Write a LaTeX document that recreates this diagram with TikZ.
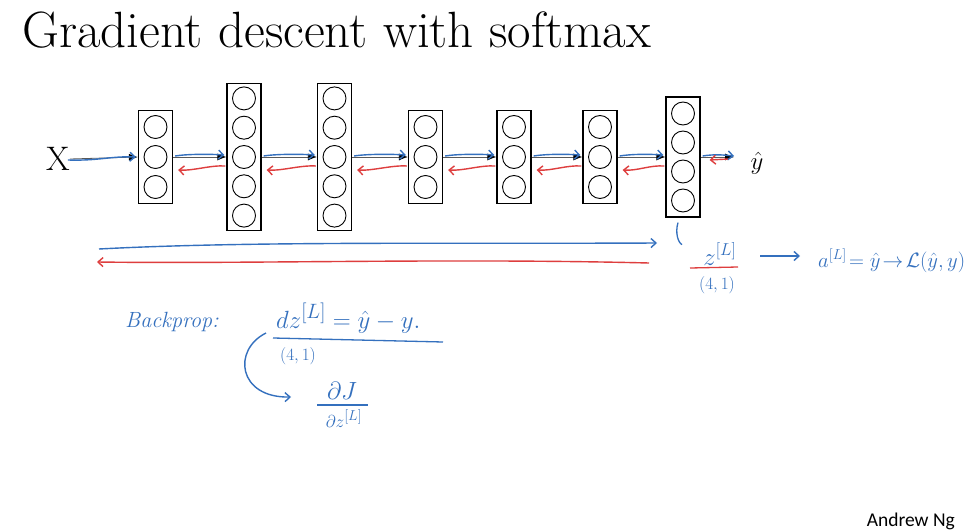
\documentclass[tikz,border=0pt]{standalone}
\usepackage{fontspec}
\usepackage{amsmath}
\usetikzlibrary{arrows.meta}
\newfontfamily\andrewfont{Carlito}
\definecolor{pen}{RGB}{52,112,190}
\definecolor{redpen}{RGB}{222,62,62}
\begin{document}
\begin{tikzpicture}[x=1pt,y=-1pt,
  layerbox/.style={draw,line width=1.2pt,minimum width=34pt,inner sep=0pt},
  unit/.style={circle,draw,line width=0.9pt,minimum size=23pt,inner sep=0pt},
  fwd/.style={draw=black!65,line width=0.8pt,-{Latex[length=9pt,width=7pt,black]}},
  bluearrow/.style={pen,line width=1.4pt,-{Straight Barb[length=5pt,width=9pt]}},
  redarrow/.style={redpen,line width=1.4pt,-{Straight Barb[length=5pt,width=9pt]}},
  hand/.style={pen,inner sep=0pt},
]
\useasboundingbox (0,0) rectangle (969,532);
\fill[white] (0,0) rectangle (969,532);

\node[anchor=base west,inner sep=0pt] (title) at (22,48) {\fontsize{51}{55}\selectfont Gradient descent with softmax};

% layers
\node[layerbox,minimum height=93pt] (b1) at (155.5,157) {};
\node[layerbox,minimum height=147pt] (b2) at (244,157) {};
\node[layerbox,minimum height=147pt] (b3) at (334.5,157) {};
\node[layerbox,minimum height=93pt] (b4) at (425.5,157) {};
\node[layerbox,minimum height=93pt] (b5) at (514,157) {};
\node[layerbox,minimum height=93pt] (b6) at (600,157) {};
\node[layerbox,minimum height=120pt] (b7) at (683,157) {};

\foreach \b in {b1,b4,b5,b6}{
  \foreach \k in {-1,0,1}{
    \node[unit] (\b u\k) at ([yshift=\k*30pt]\b.center) {};
  }
}
\foreach \b in {b2,b3}{
  \foreach \k in {-2,-1,0,1,2}{
    \node[unit] (\b u\k) at ([yshift=\k*29.3pt]\b.center) {};
  }
}
\foreach \k/\n in {-1.5/a,-0.5/b,0.5/c,1.5/d}{
  \node[unit] (b7u\n) at ([yshift=\k*29pt]b7.center) {};
}

\node[inner sep=0pt] (X) at (58,159) {\fontsize{34}{36}\selectfont X};
\node[inner sep=0pt] (yhat) at (757,163) {\fontsize{30}{32}\selectfont $\hat{y}$};
\coordinate (out) at (734,157);

% black forward arrows
\draw[fwd] (X.east) -- (b1.west);
\draw[fwd] (b1.east) -- (b2.west);
\draw[fwd] (b2.east) -- (b3.west);
\draw[fwd] (b3.east) -- (b4.west);
\draw[fwd] (b4.east) -- (b5.west);
\draw[fwd] (b5.east) -- (b6.west);
\draw[fwd] (b6.east) -- (b7.west);
\draw[fwd] (b7.east) -- (out);

% blue hand-drawn forward arrows
\draw[bluearrow] ([xshift=-2pt,yshift=-1pt]X.east) .. controls +(30,1) and +(-25,-1) .. ([xshift=-2pt]b1.west);
\foreach \a/\b in {b1/b2,b2/b3,b3/b4,b4/b5,b5/b6,b6/b7}{
  \draw[bluearrow] ([xshift=2pt,yshift=1pt]\a.east) .. controls +(12,-2) and +(-15,-1) .. ([xshift=-2pt,yshift=2pt]\b.west);
}
\draw[bluearrow] ([xshift=2pt,yshift=1pt]b7.east) .. controls +(12,-2) and +(-10,-1) .. ([yshift=1pt]out);

% red backward arrows
\foreach \a/\b in {b1/b2,b2/b3,b3/b4,b4/b5,b5/b6,b6/b7}{
  \draw[redarrow] ([xshift=-1pt,yshift=-9pt]\b.west) .. controls +(-15,-1) and +(15,1) .. ([xshift=5pt,yshift=-13pt]\a.east);
}
\draw[redarrow] ([xshift=-6pt,yshift=-2pt]out) -- ([xshift=9pt,yshift=-3pt]b7.east);

% long forward / backward arrows
\coordinate (fs) at (99,249);
\coordinate (fe) at (657,243);
\coordinate (bs) at (649,263);
\coordinate (be) at (97,262);
\draw[bluearrow] (fs) .. controls (250,241) and (450,244) .. (fe);
\draw[redarrow] (bs) .. controls (450,258) and (250,264) .. (be);

% link from last layer
\draw[pen,line width=1.3pt] ([xshift=-5pt,yshift=-5pt]b7.south) .. controls +(-3,10) and +(-4,-2) .. ++(4,22);

% z^[L]
\node[hand,anchor=base] (zL) at (720,265) {\fontsize{26}{28}\selectfont $z^{[L]}$};
\draw[redpen,line width=1.3pt] (690,268) -- (738,267);
\node[hand] (zdim) at (717,285) {\fontsize{19}{21}\selectfont $(4,1)$};
\node[hand,anchor=base west] (aeq) at (818,267) {\fontsize{21}{23}\selectfont $a^{[L]}\!=\hat{y}\!\rightarrow\!\mathcal{L}(\hat{y},y)$};
\coordinate (za) at (760,256);
\coordinate (zb) at (800,256);
\draw[bluearrow] (za) -- (zb);

% backprop
\node[hand,anchor=base west] (bp) at (125,327) {\fontsize{22}{24}\selectfont\itshape Backprop:};
\node[hand,anchor=base west] (dz) at (276,328) {\fontsize{28}{30}\selectfont $dz^{[L]} = \hat{y} - y.$};
\draw[pen,line width=1.3pt] (273,338) -- (443,342);
\node[hand] (dzdim) at (298,356) {\fontsize{19}{21}\selectfont $(4,1)$};
\coordinate (cs) at (266,333);
\coordinate (ce) at (291,397);
\draw[bluearrow] (cs) .. controls (232,350) and (238,398) .. (ce);
\node[hand,anchor=base] (dJ) at (342,399) {\fontsize{24}{26}\selectfont $\partial J$};
\draw[pen,line width=1.3pt] (317,405) -- (368,405);
\node[hand,anchor=base] (dzL) at (344,427) {\fontsize{19}{21}\selectfont $\partial z^{[L]}$};

\node[anchor=base east,inner sep=0pt] (ng) at (955,526) {\andrewfont\fontsize{19.5}{22}\selectfont Andrew Ng};
\end{tikzpicture}
\end{document}
